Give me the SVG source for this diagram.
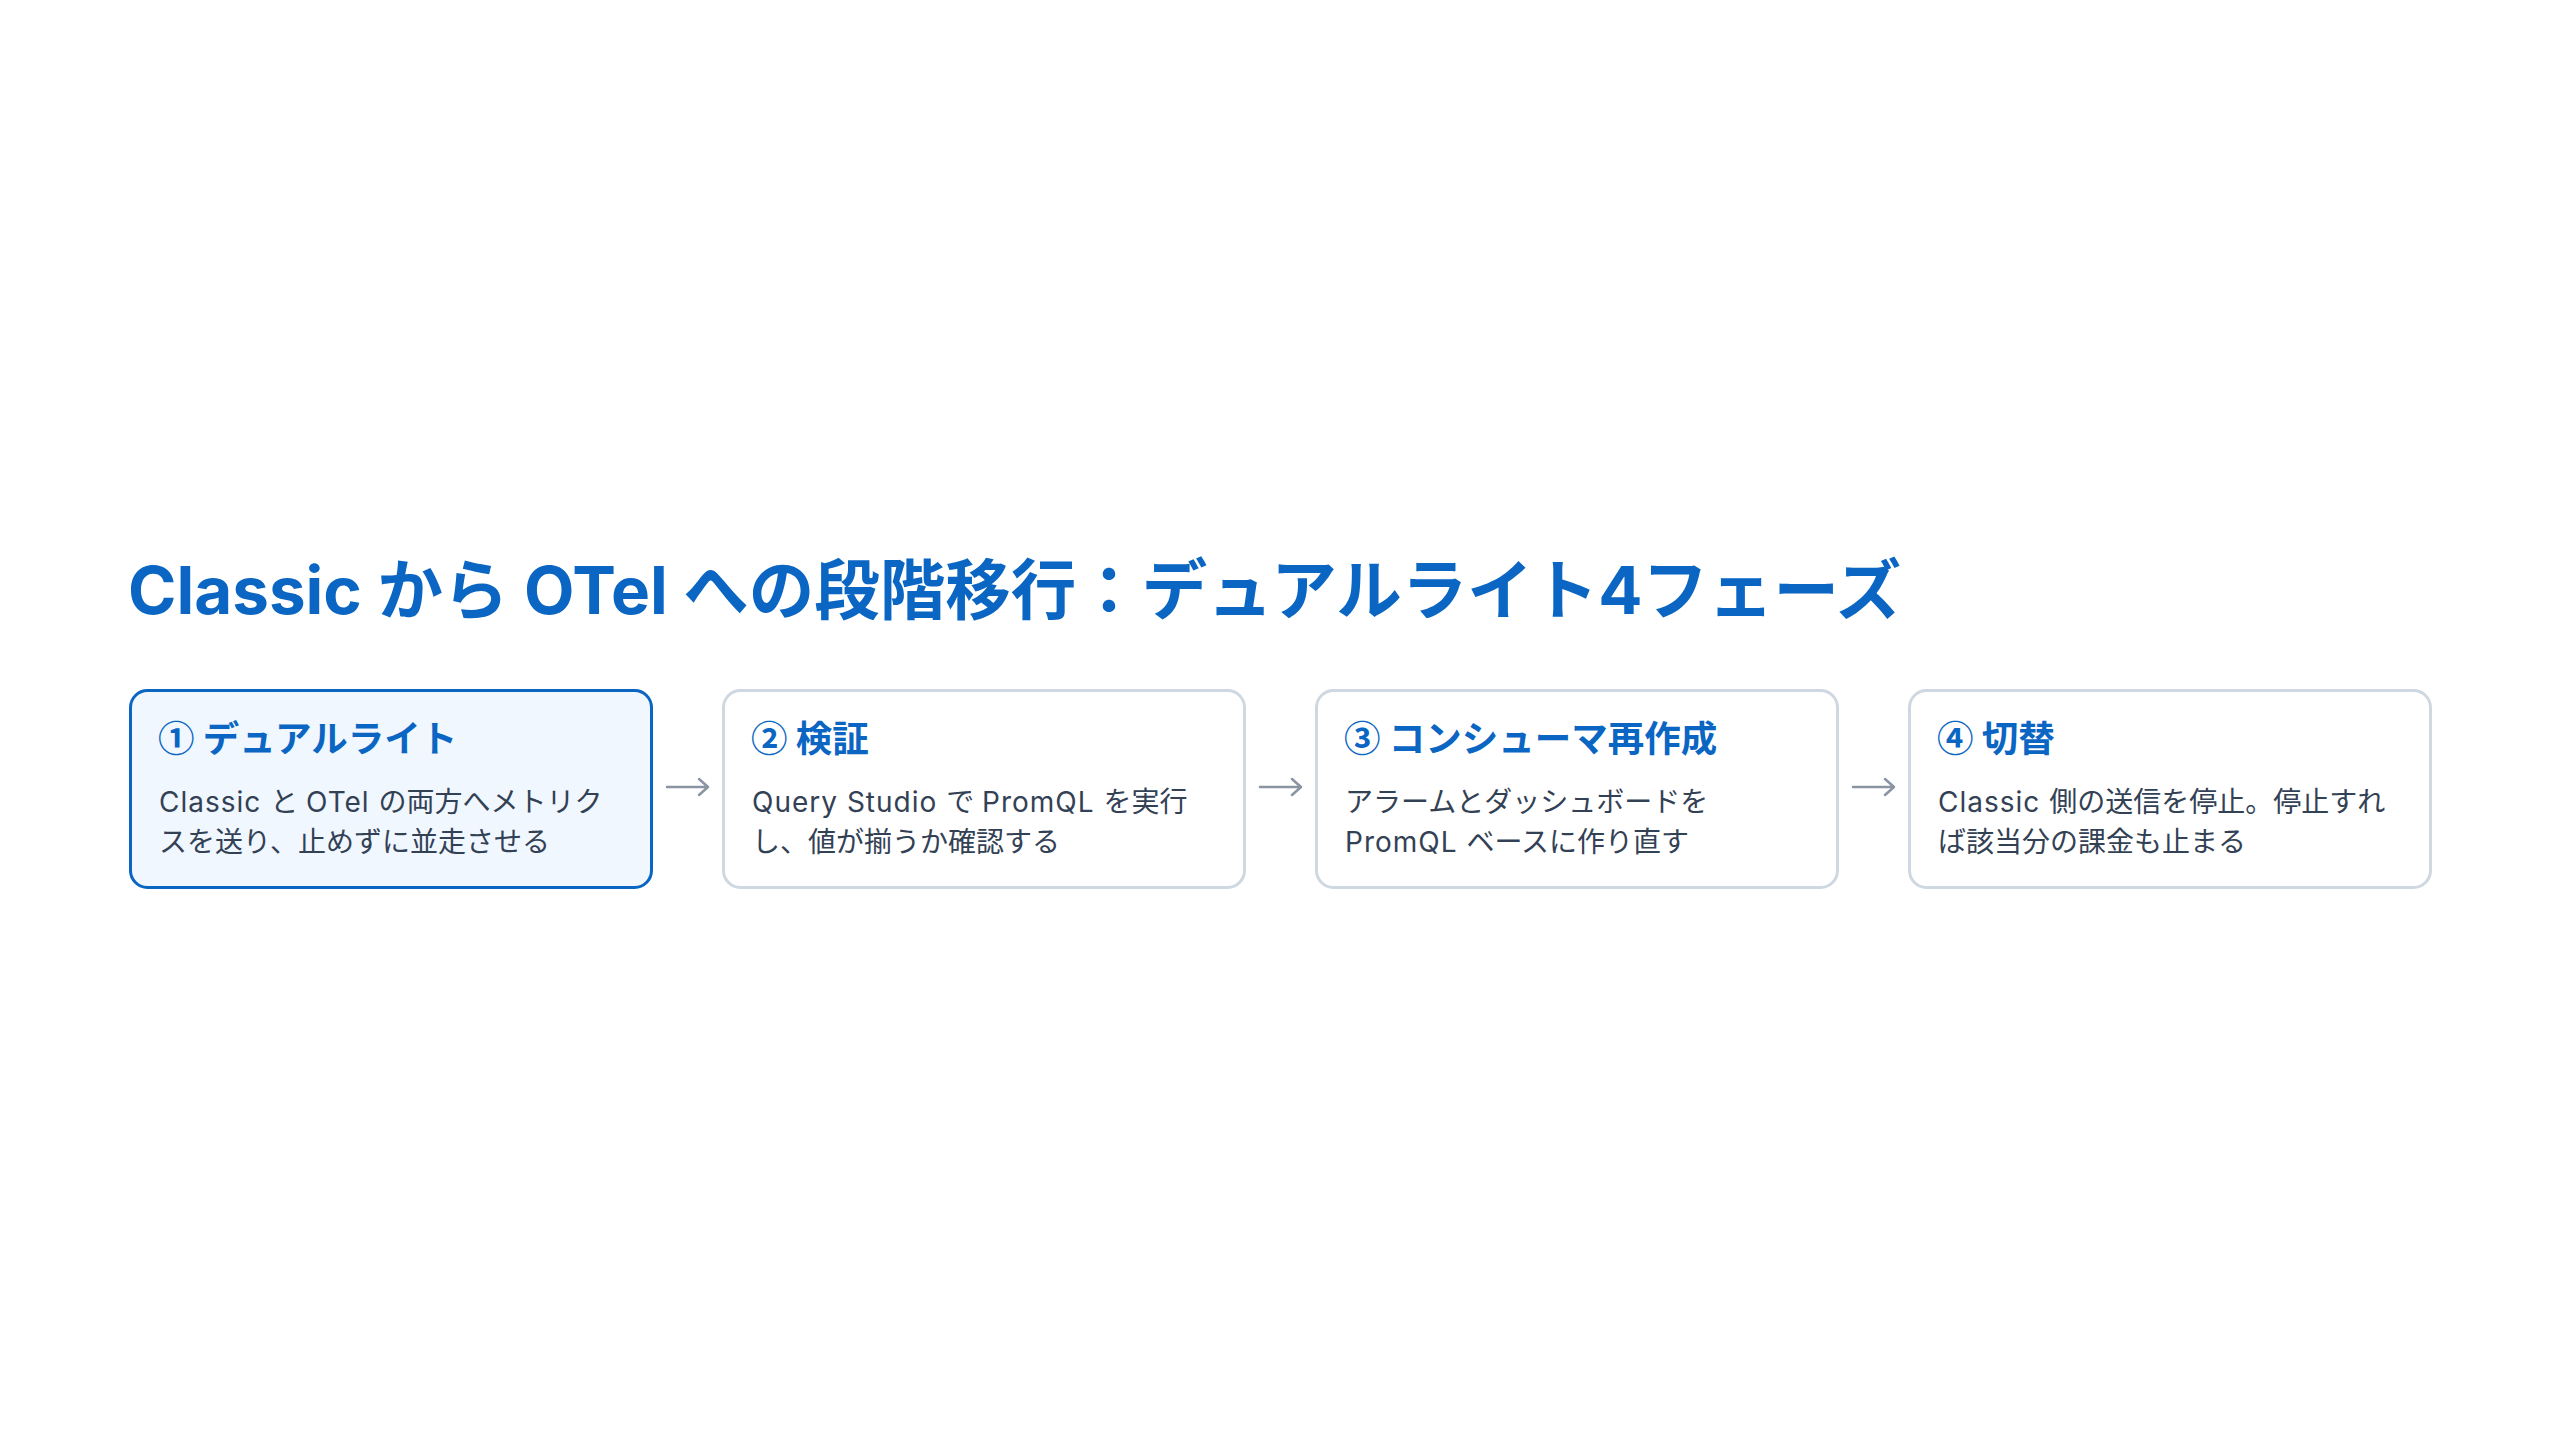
<svg xmlns="http://www.w3.org/2000/svg" width="2560" height="1440" viewBox="0 0 2560 1440">
<style>
.title{font-family:Inter,"Noto Sans CJK JP",sans-serif;font-weight:700;font-size:65.5px;fill:#0a66c2}
.head{font-family:"Noto Sans CJK JP",sans-serif;font-weight:700;font-size:36.5px;fill:#0a66c2}
.body{font-family:Inter,"Noto Sans CJK JP",sans-serif;font-weight:400;font-size:28px;fill:#334155}
.l{letter-spacing:1px}
.box{fill:#ffffff;stroke:#cfd8e1;stroke-width:3}
.box.active{fill:#f0f7ff;stroke:#0a66c2}
.arrow{fill:none;stroke:#8a94a3;stroke-width:2.5;stroke-linecap:round;stroke-linejoin:round}
</style>
<rect width="2560" height="1440" fill="#ffffff"/>
<text class="title" x="128" y="614">Classic から OTel への段階移行：デュアルライト4フェーズ</text>
<g id="node1">
<rect class="box active" x="130.5" y="690.5" width="521" height="197" rx="17"/>
<text class="head" x="158" y="752">① デュアルライト</text>
<text class="body" x="159" y="812"><tspan class="l">Classic </tspan>と <tspan class="l">OTel </tspan>の両方へメトリク</text>
<text class="body" x="159" y="852">スを送り、止めずに並走させる</text>
</g>
<g id="node2">
<rect class="box" x="723.5" y="690.5" width="521" height="197" rx="17"/>
<text class="head" x="751" y="752">② 検証</text>
<text class="body" x="752" y="812"><tspan class="l">Query Studio </tspan>で <tspan class="l">PromQL </tspan>を実行</text>
<text class="body" x="752" y="852">し、値が揃うか確認する</text>
</g>
<g id="node3">
<rect class="box" x="1316.5" y="690.5" width="521" height="197" rx="17"/>
<text class="head" x="1344" y="752">③ コンシューマ再作成</text>
<text class="body" x="1345" y="812">アラームとダッシュボードを</text>
<text class="body" x="1345" y="852"><tspan class="l">PromQL </tspan>ベースに作り直す</text>
</g>
<g id="node4">
<rect class="box" x="1909.5" y="690.5" width="521" height="197" rx="17"/>
<text class="head" x="1937" y="752">④ 切替</text>
<text class="body" x="1938" y="812"><tspan class="l">Classic </tspan>側の送信を停止。停止すれ</text>
<text class="body" x="1938" y="852">ば該当分の課金も止まる</text>
</g>
<g id="connectors">
<path class="arrow" d="M667 787 H708 M699 779 L708 787 L699 795"/>
<path class="arrow" d="M1260 787 H1301 M1292 779 L1301 787 L1292 795"/>
<path class="arrow" d="M1853 787 H1894 M1885 779 L1894 787 L1885 795"/>
</g>
</svg>
